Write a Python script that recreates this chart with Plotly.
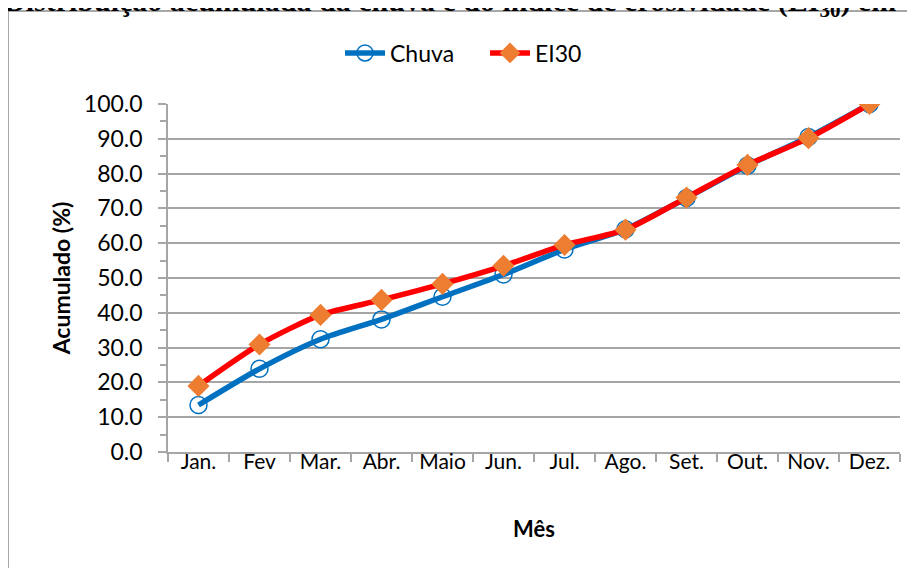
import plotly.graph_objects as go

months = ["Jan.", "Fev", "Mar.", "Abr.", "Maio", "Jun.", "Jul.", "Ago.", "Set.", "Out.", "Nov.", "Dez."]
chuva = [13.5, 23.9, 32.4, 38.1, 44.6, 51.0, 58.2, 64.0, 73.0, 82.3, 90.5, 100.0]
ei30 = [19.0, 30.9, 39.4, 43.7, 48.3, 53.5, 59.5, 63.9, 73.1, 82.5, 90.2, 100.0]

font_family = "Lato, 'Open Sans', sans-serif"

OFF = 8  # page body margin
W, H = 915, 568
# plot area in screen pixels: x 168-900, y 104-452
L = 168 - OFF
T = 104 - OFF
R = W - (900 - OFF)
B = H - (452 - OFF)
pw, ph = W - L - R, H - T - B

def px_x(sx):
    return (sx - OFF - L) / pw

def px_y(sy):
    return (H - B - (sy - OFF)) / ph

fig = go.Figure()
fig.add_trace(go.Scatter(
    x=months, y=chuva, name="Chuva", mode="lines+markers",
    line=dict(color="#0070C0", width=5.5, shape="spline", smoothing=0.7),
    marker=dict(symbol="circle-open", size=17, color="#0070C0", line=dict(width=1.5, color="#0070C0")),
))
fig.add_trace(go.Scatter(
    x=months, y=ei30, name="EI30", mode="lines+markers",
    line=dict(color="#FF0000", width=5.5, shape="spline", smoothing=0.7),
    marker=dict(symbol="diamond", size=17, color="#ED7D31"),
))

fig.update_layout(
    width=W, height=H,
    margin=dict(l=L, r=R, t=T, b=B, pad=0, autoexpand=False),
    paper_bgcolor="white", plot_bgcolor="white",
    font=dict(family=font_family, size=21, color="#000000"),
    showlegend=True,
    legend=dict(orientation="h", x=px_x(340), xanchor="left", y=px_y(53), yanchor="middle",
                font=dict(size=23), itemwidth=40, entrywidth=90, bgcolor="rgba(0,0,0,0)"),
    xaxis=dict(
        type="category", range=[-0.5, len(months) - 0.5], tickson="boundaries", ticks="outside",
        ticklen=8, tickcolor="#A6A6A6",
        tickwidth=1.5, showline=True, linecolor="#A6A6A6", linewidth=1.5, showgrid=False,
        tickangle=0, ticklabelstandoff=-10, automargin=False,
        title=dict(text="<b>Mês</b>", font=dict(size=22), standoff=50),
        tickfont=dict(size=21), fixedrange=True,
    ),
    yaxis=dict(
        range=[0, 100], dtick=10, tickformat=".1f", ticks="outside", ticklen=8, tickcolor="#A6A6A6",
        tickwidth=1.5, showline=True, linecolor="#A6A6A6", linewidth=1.5,
        showgrid=True, gridcolor="#A6A6A6", gridwidth=1.5, zeroline=False,
        ticklabelstandoff=11, automargin=False,
        minor=dict(dtick=5, ticks="outside", ticklen=6, tickcolor="#A6A6A6", tickwidth=1.5, showgrid=False),
        title=dict(text="<b>Acumulado (%)</b>", font=dict(size=23), standoff=7),
        tickfont=dict(size=23), fixedrange=True,
    ),
    shapes=[dict(type="rect", xref="paper", yref="paper",
                 x0=px_x(8), x1=px_x(930), y0=px_y(590), y1=px_y(11),
                 line=dict(color="#8C8C8C", width=1.5), fillcolor="rgba(0,0,0,0)", layer="below")],
    annotations=[dict(
        text="<b>Distribuição acumulada da chuva e do índice de erosividade (EI<sub>30</sub>) em</b>",
        xref="paper", yref="paper", x=px_x(2), y=px_y(24), xanchor="left", yanchor="bottom",
        showarrow=False, font=dict(family="'Liberation Serif', 'Times New Roman', serif", size=30, color="#000000"),
    )],
)

fig.write_html("out.html")
